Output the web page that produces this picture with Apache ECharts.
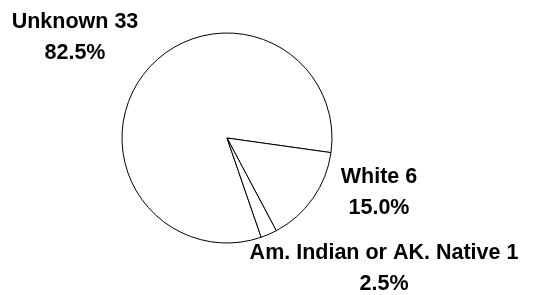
<!DOCTYPE html>
<html>
<head>
<meta charset="utf-8">
<script src="https://cdn.jsdelivr.net/npm/echarts@6/dist/echarts.min.js"></script>
<style>
  html, body { margin: 0; padding: 0; background: #fff; }
  #chart { width: 538px; height: 295px; }
</style>
</head>
<body>
<div id="chart"></div>
<script>
  var categories = ["Unknown", "White", "Am. Indian or AK. Native"];
  var counts = [33, 6, 1];

  // where each label block sits (centre), Excel-style placement
  var labelSpots = [[75, 38], [379, 193], [384, 269]];

  var chart = echarts.init(document.getElementById("chart"));
  var option = {
    backgroundColor: "#ffffff",
    animation: false,
    series: [
      {
        type: "pie",
        center: [227, 138],
        radius: 105,
        startAngle: -71,
        clockwise: true,
        avoidLabelOverlap: false,
        silent: true,
        itemStyle: {
          color: "#ffffff",
          borderColor: "#000000",
          borderWidth: 1
        },
        label: {
          show: true,
          position: "outside",
          color: "#000000",
          fontFamily: "Liberation Sans, Arial, sans-serif",
          fontWeight: "bold",
          fontSize: 21.5,
          lineHeight: 31,
          align: "center",
          formatter: function (p) {
            return p.name + " " + p.value + "\n" + p.percent.toFixed(1) + "%";
          }
        },
        labelLine: { show: false },
        labelLayout: function (p) {
          var s = labelSpots[p.dataIndex];
          return { x: s[0], y: s[1], align: "center", verticalAlign: "middle" };
        },
        data: categories.map(function (c, i) {
          return { name: c, value: counts[i] };
        })
      }
    ]
  };
  chart.setOption(option);
</script>
</body>
</html>
